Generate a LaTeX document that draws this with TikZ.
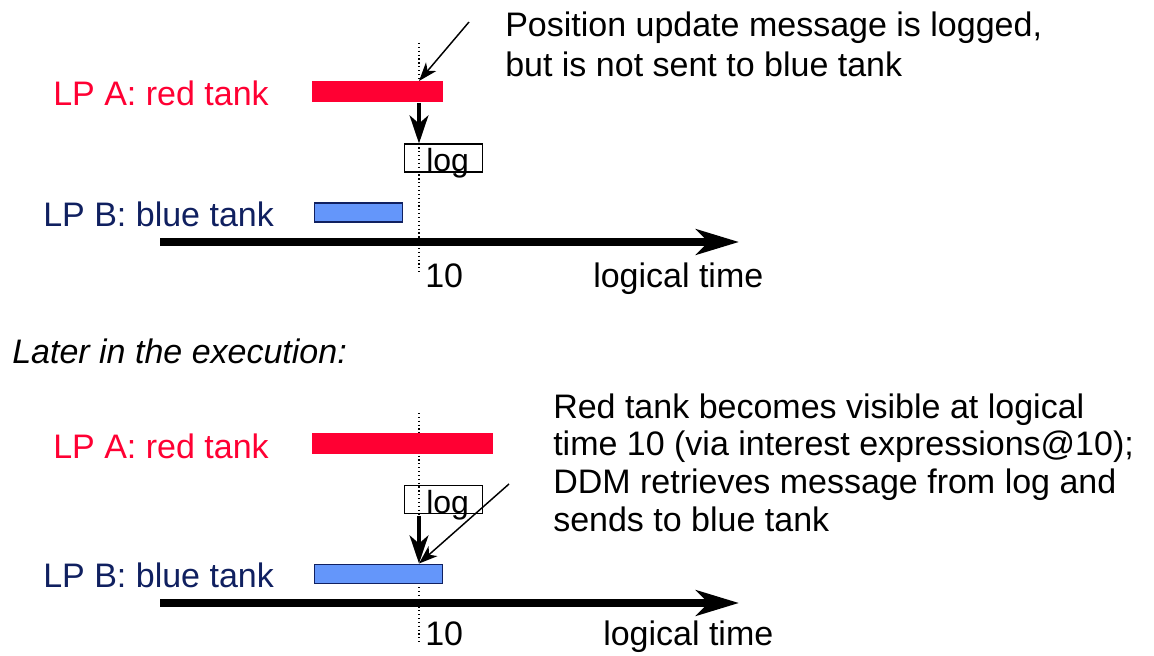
\documentclass[tikz,border=0pt]{standalone}
\usepackage{fontspec}
\setmainfont{Liberation Sans}
\usetikzlibrary{arrows.meta}
\definecolor{tankred}{RGB}{255,0,51}
\definecolor{navy}{RGB}{16,32,96}
\definecolor{bluefill}{RGB}{100,150,250}
\begin{document}
\begin{tikzpicture}[x=0.75pt,y=-0.75pt,
 lbl/.style={font=\fontsize{25.5}{30}\selectfont, inner sep=0pt, anchor=base west},
 loglbl/.style={font=\fontsize{24}{28}\selectfont, inner sep=0pt, anchor=base west},
 redbar/.style={fill=tankred, draw=none, inner sep=0pt, anchor=north west, minimum height=15.75pt},
 bluebar/.style={fill=bluefill, draw=navy, line width=1.2pt, inner sep=0pt, anchor=north west, minimum height=14.25pt},
 logbox/.style={draw=black, fill=white, line width=1.1pt, inner sep=0pt, anchor=north west, minimum width=58.5pt, minimum height=21pt},
 axis/.style={line width=6pt, -{Stealth[length=32pt,width=19pt,inset=9pt]}},
 msg/.style={line width=3pt, -{Stealth[length=21pt,width=14pt,inset=6pt]}},
 pointer/.style={line width=1.1pt, -{Stealth[length=14pt,width=10pt,inset=4pt]}},
 tickline/.style={dotted, line width=0.9pt}]
\useasboundingbox (0,0) rectangle (1154,656);

% ---------- top part ----------
\node[lbl, text=tankred] (lpA1) at (53,106) {LP A: red tank};
\node[lbl, text=navy] (lpB1) at (43,227) {LP B: blue tank};
\node[lbl] (t1a) at (505,37) {Position update message is logged,};
\node[lbl] (t1b) at (505,77) {but is not sent to blue tank};

\node[logbox] (logA) at (403.5,143.5) {};
\node[loglbl] (logAt) at (426,172) {log};

\coordinate (tick1top) at (419,43);
\coordinate (tick1bot) at (419,272);
\draw[tickline] (tick1top) -- (tick1bot);

\node[redbar, minimum width=98.25pt] (redA) at (312,81) {};
\node[bluebar, minimum width=66pt] (blueA) at (313.5,202.5) {};

\coordinate (ax1s) at (160,242);
\coordinate (ax1e) at (739,242);
\draw[axis] (ax1s) -- (ax1e);
\node[lbl] (ten1) at (425,287) {10};
\node[lbl] (lt1) at (593,287) {logical time};

\coordinate (p1) at (469,22);
\draw[pointer] (p1) -- (redA.north -| tick1top);
\draw[msg] (redA.south -| tick1top) -- (logA.north -| tick1top);

% ---------- middle ----------
\node[lbl, font=\fontsize{25.5}{30}\selectfont\itshape] (later) at (12,363) {Later in the execution:};

% ---------- bottom part ----------
\node[lbl, text=tankred] (lpA2) at (53,458) {LP A: red tank};
\node[lbl, text=navy] (lpB2) at (43,587) {LP B: blue tank};
\node[lbl] (t2a) at (553,418) {Red tank becomes visible at logical};
\node[lbl] (t2b) at (553,455) {time 10 (via interest expressions@10);};
\node[lbl] (t2c) at (553,493) {DDM retrieves message from log and};
\node[lbl] (t2d) at (553,531) {sends to blue tank};

\node[logbox] (logB) at (403.5,484.5) {};
\node[loglbl] (logBt) at (426,513) {log};

\coordinate (tick2top) at (419,413);
\coordinate (tick2bot) at (419,643);
\draw[tickline] (tick2top) -- (tick2bot);

\node[redbar, minimum width=135.75pt] (redB) at (312,433) {};
\node[bluebar, minimum width=96pt] (blueB) at (313.5,563.5) {};

\coordinate (ax2s) at (160,603);
\coordinate (ax2e) at (739,603);
\draw[axis] (ax2s) -- (ax2e);
\node[lbl] (ten2) at (425,645) {10};
\node[lbl] (lt2) at (603,645) {logical time};

\coordinate (p2) at (509,484);
\draw[pointer] (p2) -- (blueB.north -| tick2top);
\draw[msg] ([yshift=-1.5pt]logB.south -| tick2top) -- (blueB.north -| tick2top);
\end{tikzpicture}
\end{document}
